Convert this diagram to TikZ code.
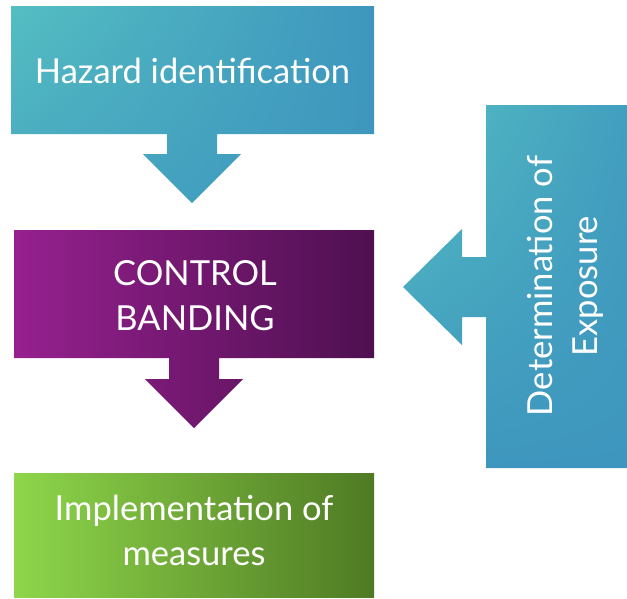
\documentclass[tikz,border=0pt]{standalone}
\usepackage{fontspec}
\setmainfont{Lato}
\usetikzlibrary{backgrounds,positioning,shadings}

\begin{document}
\begin{tikzpicture}[x=1pt, y=-1pt]
			\definecolor{tealLight}{RGB}{84, 190, 194}
			\definecolor{tealDark}{RGB}{62, 150, 190}
			\definecolor{plumLight}{RGB}{150, 32, 143}
			\definecolor{plumDark}{RGB}{78, 16, 80}
			\definecolor{leafLight}{RGB}{142, 214, 74}
			\definecolor{leafDark}{RGB}{79, 122, 36}
			\tikzstyle{stage}=[text=white, align=center, inner sep=0pt, font=\fontsize{34.5}{45}\selectfont]
			\tikzstyle{teal}=[upper left=tealLight, upper right=tealDark, lower left=tealLight!45!tealDark, lower right=tealDark]
			\tikzstyle{tall teal}=[upper left=tealLight, upper right=tealDark!80!tealLight, lower left=tealDark, lower right=tealDark]

			\useasboundingbox (0,0) rectangle (627,598);

			% box with the arrow underneath, one shape each
			\shade [teal] (11,6) -- (374,6) -- (374,134) -- (217,134) -- (217,154) -- (241,154) -- (192,203)
				-- (143,154) -- (167,154) -- (167,134) -- (11,134) -- cycle;
			\shade [left color=plumLight, right color=plumDark] (14,230) -- (374,230) -- (374,358) -- (219,358)
				-- (219,379) -- (243,379) -- (194,428) -- (145,379) -- (169,379) -- (169,358) -- (14,358) -- cycle;
			\shade [left color=leafLight, right color=leafDark] (14,473) rectangle (374,597);
			\shade [tall teal] (486,105) -- (627,105) -- (627,468) -- (486,468) -- (486,317) -- (462,317)
				-- (462,345) -- (403,287) -- (462,229) -- (462,257) -- (486,257) -- cycle;

			\node [stage] (hazard) at (192.5,71) {Hazard identification};
			\node [stage] (banding) at (195,296) {CONTROL\\BANDING};
			\node [stage] (measures) at (194,530) {Implementation of\\measures};
			\node [stage, rotate=90] (exposure) at (565,286) {Determination of\\Exposure};
		\end{tikzpicture}
\end{document}
